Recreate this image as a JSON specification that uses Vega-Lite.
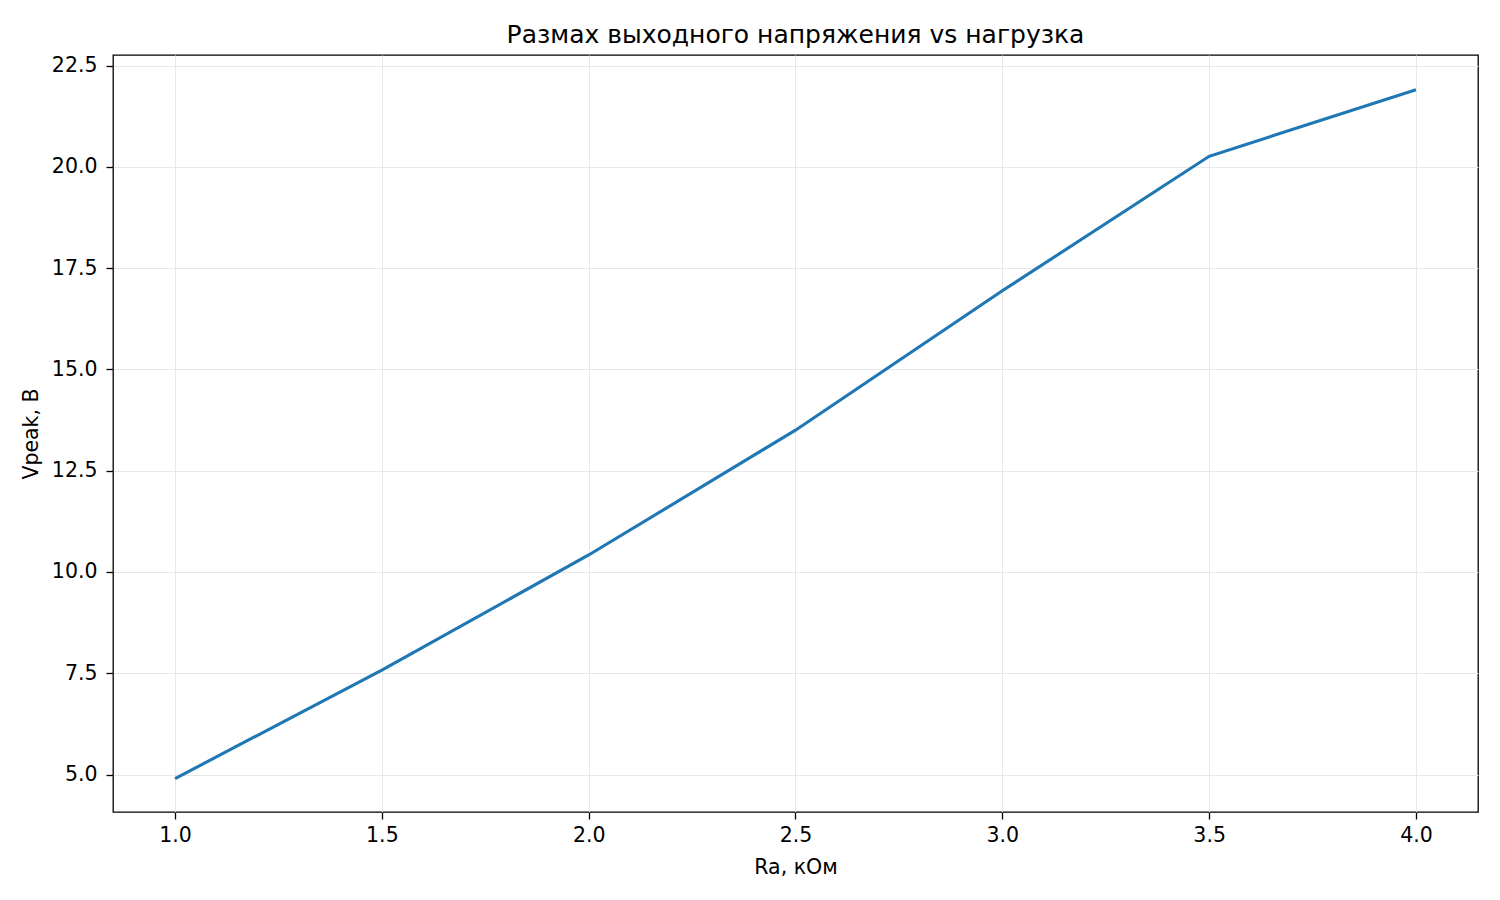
{
  "$schema": "https://vega.github.io/schema/vega-lite/v6.json",
  "width": 1365,
  "height": 757,
  "autosize": {"type": "none"},
  "padding": {"left": 113, "top": 55, "right": 22, "bottom": 88},
  "background": "white",
  "title": {
    "text": "Размах выходного напряжения vs нагрузка",
    "font": "DejaVu Sans",
    "fontSize": 25,
    "fontWeight": "normal",
    "color": "black",
    "baseline": "alphabetic",
    "offset": -13
  },
  "config": {
    "view": {"stroke": "black", "strokeWidth": 1.3},
    "axis": {
      "labelFont": "DejaVu Sans",
      "titleFont": "DejaVu Sans",
      "labelFontSize": 20.5,
      "titleFontSize": 20.5,
      "titleFontWeight": "normal",
      "labelColor": "black",
      "titleColor": "black",
      "domain": false,
      "tickColor": "black",
      "tickSize": 7,
      "tickWidth": 1.3,
      "gridColor": "#e8e8e8",
      "gridWidth": 1
    }
  },
  "data": {
    "values": [
      {"ra": 1.0, "vpeak": 4.90},
      {"ra": 1.5, "vpeak": 7.58},
      {"ra": 2.0, "vpeak": 10.42},
      {"ra": 2.5, "vpeak": 13.50},
      {"ra": 3.0, "vpeak": 16.94},
      {"ra": 3.5, "vpeak": 20.26},
      {"ra": 4.0, "vpeak": 21.90}
    ]
  },
  "mark": {"type": "line", "color": "#1f77b4", "strokeWidth": 3.1, "clip": true},
  "encoding": {
    "x": {
      "field": "ra",
      "type": "quantitative",
      "title": "Ra, кОм",
      "scale": {"domain": [0.85, 4.15], "nice": false, "zero": false},
      "axis": {
        "values": [1.0, 1.5, 2.0, 2.5, 3.0, 3.5, 4.0],
        "format": ".1f",
        "labelPadding": 6,
        "titlePadding": 12
      }
    },
    "y": {
      "field": "vpeak",
      "type": "quantitative",
      "title": "Vpeak, В",
      "scale": {"domain": [4.076, 22.76], "nice": false, "zero": false},
      "axis": {
        "values": [5.0, 7.5, 10.0, 12.5, 15.0, 17.5, 20.0, 22.5],
        "format": ".1f",
        "labelPadding": 9,
        "titlePadding": 10
      }
    }
  }
}
